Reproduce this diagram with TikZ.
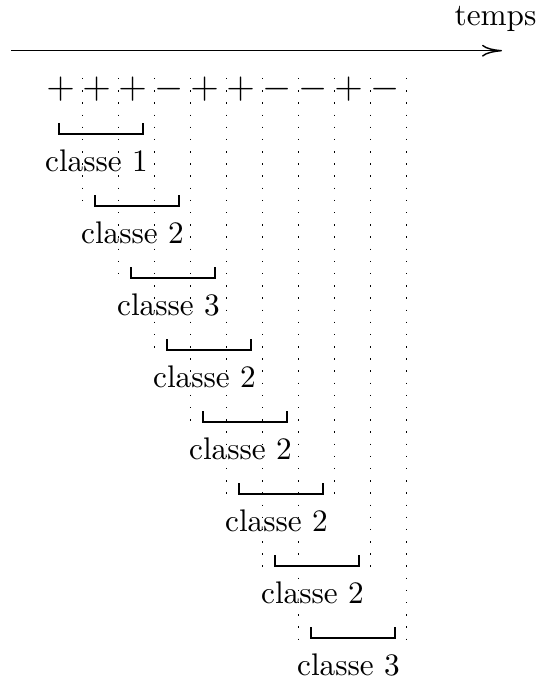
\documentclass[tikz,border=0pt]{standalone}
\usetikzlibrary{arrows.meta}
\tikzset{
  sym/.style={font=\large, inner sep=0pt},
  lab/.style={anchor=base, inner sep=0pt},
  guide/.style={line width=0.45pt, dash pattern=on 0.45pt off 3.45pt},
  bracket/.style={line width=0.45pt},
  timeaxis/.style={-{To[length=6.4pt,width=3.8pt]}, line width=0.45pt}
}
\begin{document}
\begin{tikzpicture}[x=0.32pt, y=-0.32pt]
\useasboundingbox (0,0) rectangle (538,681);
% time axis
\coordinate (tstart) at (11,50.7);
\coordinate (tend) at (502,50.7);
\draw[timeaxis] (tstart) -- (tend);
\node[lab, anchor=base west] (temps) at (454,26) {temps};
% symbols
\foreach \s [count=\i from 0] in {+,+,+,-,+,+,-,-,+,-}
  \node[sym] (s\i) at (60.7+36*\i, 89) {$\s$};
% dotted guides
\foreach \i/\j in {0/1,1/2,2/3,3/4,4/5,5/6,6/7,7/5,8/6,9/7} {
  \coordinate (gt\i) at (82.7+36*\i, 78);
  \coordinate (gb\i) at (82.7+36*\i, 136+72*\j);
  \draw[guide] (gt\i) -- (gb\i);
}
% brackets and labels
\foreach \k/\cl in {0/1,1/2,2/3,3/2,4/2,5/2,6/2,7/3} {
  \coordinate (bl\k) at (59+36*\k, 123+72*\k);
  \coordinate (bm\k) at (143+36*\k, 134+72*\k);
  \coordinate (br\k) at (143+36*\k, 123+72*\k);
  \draw[bracket] (bl\k) |- (bm\k) -- (br\k);
  \node[lab] (c\k) at (96.5+36*\k, 171.7+72*\k) {classe \cl};
}
\end{tikzpicture}
\end{document}
